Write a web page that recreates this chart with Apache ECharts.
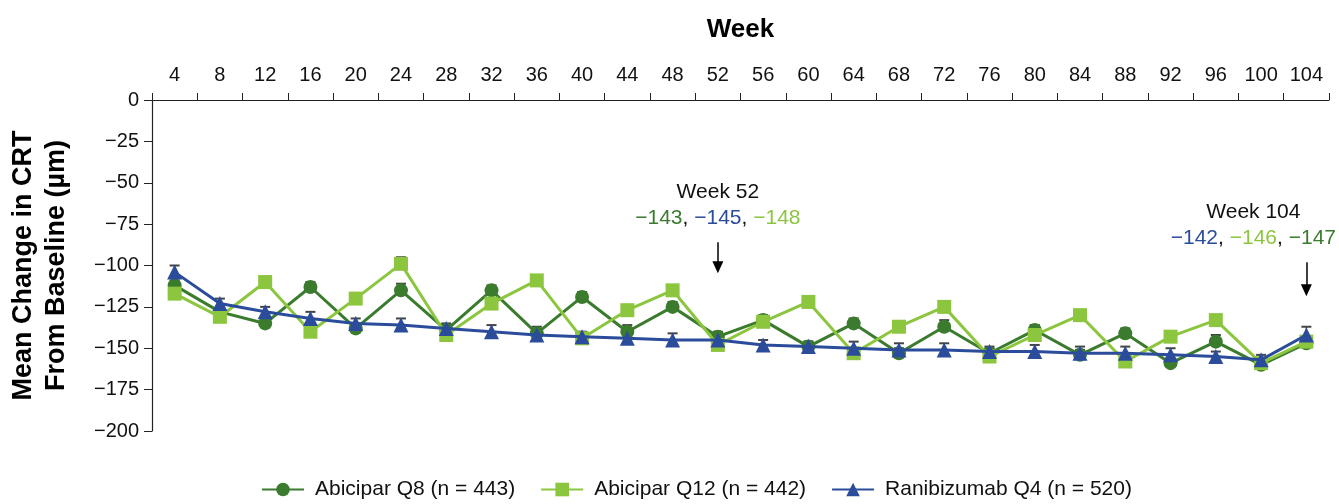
<!DOCTYPE html>
<html><head><meta charset="utf-8">
<script src="https://cdn.jsdelivr.net/npm/echarts@6/dist/echarts.min.js"></script>
<style>html,body{margin:0;padding:0;background:#fff}#c{width:1339px;height:504px}</style>
</head><body><div id="c"></div>
<script>
const weeks = ['4','8','12','16','20','24','28','32','36','40','44','48','52','56','60','64','68','72','76','80','84','88','92','96','100','104'];
const q8  = [-112,-128,-135,-113,-138,-115,-139,-115,-141,-119,-140,-125,-143,-133,-149,-135,-153,-137,-153,-139,-154,-141,-159,-146,-160,-147];
const q12 = [-117,-131,-110,-140,-120,-99,-142,-123,-109,-144,-127,-115,-148,-134,-122,-153,-137,-125,-155,-142,-130,-158,-143,-133,-159,-146];
const q4  = [-104,-123,-128,-132,-135,-136,-138,-140,-142,-143,-144,-145,-145,-148,-149,-150,-151,-151,-152,-152,-153,-153,-154,-155,-157,-142];
const q8Err  = [3,3,3,3,3,4,3,3,4,3,4,3,3,3,3,3,3,4,3,3,3,3,3,4,3,3];
const q12Err = [3,3,3,3,3,4,3,3,3,3,3,3,3,3,3,3,3,3,3,3,3,3,3,3,3,3];
const q4Err  = [4,3,3,4,3,4,3,4,3,3,3,4,3,3,3,4,4,4,3,4,4,4,4,3,3,5];
const seriesNames = ['Abicipar Q8 (n = 443)','Abicipar Q12 (n = 442)','Ranibizumab Q4 (n = 520)'];
const yTicks = [0,-25,-50,-75,-100,-125,-150,-175,-200];

const C8 = '#3a7b2d', C12 = '#8cc63f', C4 = '#2b4c9b';
const font = '"Liberation Sans", Arial, sans-serif';

function errSeries(vals, errs, z) {
  return {
    type: 'custom', z: z, silent: true,
    data: vals.map((v, i) => [i, v, v + errs[i]]),
    renderItem: function (params, api) {
      const p0 = api.coord([api.value(0), api.value(1)]);
      const p1 = api.coord([api.value(0), api.value(2)]);
      const w = 5;
      return { type: 'group', children: [
        { type: 'line', shape: { x1: p0[0], y1: p0[1], x2: p1[0], y2: p1[1] }, style: { stroke: '#444', lineWidth: 1.5 } },
        { type: 'line', shape: { x1: p1[0] - w, y1: p1[1], x2: p1[0] + w, y2: p1[1] }, style: { stroke: '#444', lineWidth: 2 } }
      ]};
    }
  };
}

const rich = { g: { color: C8, fontSize: 21 }, k: { color: '#111', fontSize: 21 }, b: { color: C4, fontSize: 21 }, l: { color: C12, fontSize: 21 } };

const chart = echarts.init(document.getElementById('c'), null, { renderer: 'canvas' });
chart.setOption({
  animation: false,
  textStyle: { fontFamily: font },
  grid: { left: 152, right: 10, top: 100, bottom: 73, outerBoundsMode: 'none', containLabel: false },
  legend: {
    top: 474, left: 256, itemWidth: 42, itemHeight: 17, itemGap: 25,
    textStyle: { fontSize: 21, color: '#111', fontFamily: font, padding: [0, 0, 0, 6] },
    data: seriesNames
  },
  xAxis: {
    type: 'category', position: 'top', data: weeks, boundaryGap: true,
    name: 'Week', nameLocation: 'middle', nameGap: 57,
    nameTextStyle: { fontSize: 26, fontWeight: 'bold', color: '#000' },
    axisLine: { onZero: false, lineStyle: { color: '#222', width: 1.2 } },
    axisTick: { show: true, length: 7, lineStyle: { color: '#222' } },
    axisLabel: { fontSize: 20, color: '#111', margin: 15, interval: 0 },
    splitLine: { show: false }
  },
  yAxis: {
    type: 'value', min: -200, max: 0, interval: 25,
    name: 'Mean Change in CRT\nFrom Baseline (µm)', nameLocation: 'middle', nameGap: 79,
    nameTextStyle: { fontSize: 27, fontWeight: 'bold', color: '#000', lineHeight: 33 },
    axisLine: { show: true, lineStyle: { color: '#222', width: 1.2 } },
    axisTick: { show: true, length: 8, lineStyle: { color: '#222' } },
    axisLabel: { fontSize: 20, color: '#111', margin: 13,
      formatter: v => (yTicks.indexOf(v) >= 0 && v < 0) ? '\u2212' + Math.abs(v) : String(v) },
    splitLine: { show: false }
  },
  series: [
    errSeries(q8, q8Err, 1),
    errSeries(q12, q12Err, 1),
    errSeries(q4, q4Err, 1),
    { name: seriesNames[0], type: 'line', data: q8, z: 3, symbol: 'circle', symbolSize: 14,
      itemStyle: { color: C8 }, lineStyle: { color: C8, width: 3 } },
    { name: seriesNames[1], type: 'line', data: q12, z: 4, symbol: 'rect', symbolSize: 14,
      itemStyle: { color: C12 }, lineStyle: { color: C12, width: 3 } },
    { name: seriesNames[2], type: 'line', data: q4, z: 5, symbol: 'triangle', symbolSize: 15,
      itemStyle: { color: C4 }, lineStyle: { color: C4, width: 3 },
      markPoint: {
        symbol: 'rect', symbolSize: 1, itemStyle: { color: 'rgba(0,0,0,0)' }, silent: true,
        data: [
          { coord: [12, -55.5], label: { show: true, formatter: 'Week 52', fontSize: 21, color: '#111', fontFamily: font } },
          { coord: [12, -71.5], label: { show: true, formatter: '{g|\u2212143}{k|, }{b|\u2212145}{k|, }{l|\u2212148}', rich: rich } },
          { coord: [25, -68], label: { show: true, offset: [-53, 0], formatter: 'Week 104', fontSize: 21, color: '#111', fontFamily: font } },
          { coord: [25, -83.5], label: { show: true, offset: [-53, 0], formatter: '{b|\u2212142}{k|, }{l|\u2212146}{k|, }{g|\u2212147}', rich: rich } }
        ]
      },
      markLine: {
        silent: true, symbol: ['none', 'triangle'], symbolSize: [11, 12], label: { show: false },
        lineStyle: { color: '#000', width: 1.5, type: 'solid' },
        data: [
          [{ coord: [12, -86] }, { coord: [12, -101] }],
          [{ coord: [25, -98] }, { coord: [25, -115] }]
        ]
      }
    }
  ]
});
</script></body></html>
